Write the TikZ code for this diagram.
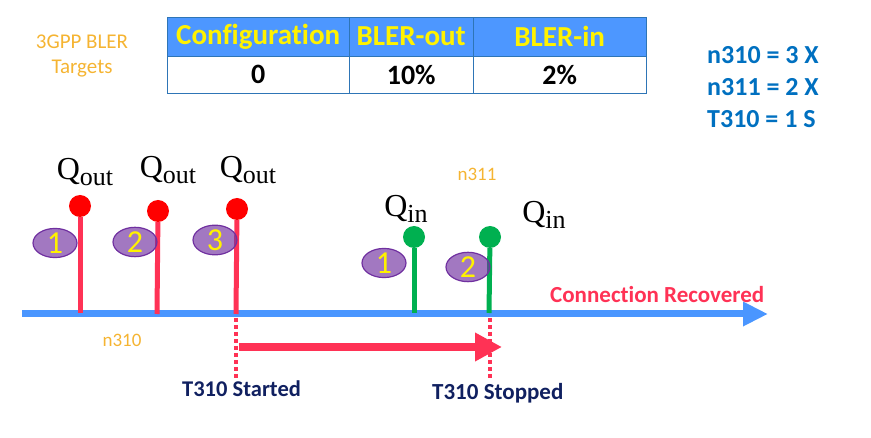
\documentclass[tikz,border=0pt]{standalone}
\usepackage{fontspec}
\setmainfont{Carlito}[Ligatures=NoCommon]
\newfontfamily\qfont{Liberation Serif}
\usetikzlibrary{arrows.meta,shapes.geometric}
\definecolor{hdrblue}{RGB}{77,151,255}
\definecolor{tblline}{RGB}{46,117,182}
\definecolor{axisblue}{RGB}{74,150,255}
\definecolor{pinred}{RGB}{255,50,85}
\definecolor{ballred}{RGB}{255,0,0}
\definecolor{pingreen}{RGB}{0,176,80}
\definecolor{ovpurple}{RGB}{112,48,160}
\definecolor{lblorange}{RGB}{245,180,50}
\definecolor{parblue}{RGB}{0,112,192}
\definecolor{navy}{RGB}{16,32,96}
\newcommand{\fsz}[1]{\fontsize{#1}{#1}\selectfont}
\newcommand{\qsub}[1]{\raisebox{-6pt}{\fsz{26}#1}}

\begin{document}
\begin{tikzpicture}[x=1pt,y=-1pt,
  hdr/.style={draw=tblline,fill=hdrblue,anchor=north west,minimum height=39pt,inner sep=0pt,text=yellow,font=\fsz{29}\bfseries},
  cell/.style={draw=tblline,anchor=north west,minimum height=37pt,inner sep=0pt,font=\fsz{28}\bfseries},
  ball/.style={circle,minimum size=22pt,inner sep=0pt},
  qlbl/.style={anchor=base,inner sep=0pt,font=\qfont\fsz{32}},
  ov/.style={ellipse,draw=ovpurple,line width=1.2pt,fill=ovpurple,fill opacity=0.65,text opacity=1,text=yellow,minimum width=44pt,minimum height=27pt,inner sep=0pt,font=\fsz{32}},
  axis/.style={axisblue,line width=7pt,-{Triangle[length=25pt,width=23pt]}},
  timer/.style={pinred,line width=8pt,-{Triangle[length=27pt,width=27pt]}},
  dots/.style={pinred,line width=3.5pt,dash pattern=on 4pt off 3pt},
  note/.style={text=lblorange,inner sep=0pt,font=\fsz{19}}
]
\useasboundingbox (0,0) rectangle (871,438);

% BLER table
\node[note,font=\fontsize{21}{25}\selectfont,align=center] (tgt) at (82,56) {3GPP BLER\\Targets};
\node[hdr,minimum width=182pt] (h1) at (167,17) {Configuration};
\node[hdr,minimum width=124pt] (h2) at (349,17) {BLER-out};
\node[hdr,minimum width=173pt] (h3) at (473,17) {BLER-in};
\node[cell,minimum width=182pt] (c1) at (167,56) {0};
\node[cell,minimum width=124pt] (c2) at (349,56) {10\%};
\node[cell,minimum width=173pt] (c3) at (473,56) {2\%};

\node[anchor=base west,inner sep=0pt,text=parblue,font=\fsz{26}\bfseries] (p1) at (707,64) {n310 = 3 X};
\node[anchor=base west,inner sep=0pt,text=parblue,font=\fsz{26}\bfseries] (p2) at (707,96) {n311 = 2 X};
\node[anchor=base west,inner sep=0pt,text=parblue,font=\fsz{26}\bfseries] (p3) at (707,128) {T310 = 1 S};

% time line
\coordinate (a0) at (22,314);
\coordinate (a1) at (768,314);
\draw[axis] (a0) -- (a1);
\node[anchor=base west,inner sep=0pt,text=pinred,font=\fsz{23}\bfseries] (rec) at (550,303) {Connection Recovered};

\coordinate (s1) at (80,313);
\coordinate (s2) at (157,314);
\coordinate (s3) at (236,314);
\coordinate (s4) at (414,313);
\coordinate (s5) at (489,313);
\node[ball,fill=ballred] (b1) at (80,206) {};
\node[ball,fill=ballred] (b2) at (158,211) {};
\node[ball,fill=ballred] (b3) at (237,209) {};
\node[ball,fill=pingreen] (b4) at (414,237) {};
\node[ball,fill=pingreen] (b5) at (490,237) {};
\path[pinred,line width=5pt]
     (s1) edge (b1)
     (s2) edge (b2)
     (s3) edge (b3);
\path[pingreen,line width=5pt]
     (s4) edge (b4)
     (s5) edge (b5);

\node[qlbl] (q1) at (85,180) {Q\qsub{out}};
\node[qlbl] (q2) at (168,178) {Q\qsub{out}};
\node[qlbl] (q3) at (248,178) {Q\qsub{out}};
\node[qlbl] (q4) at (406,217) {Q\qsub{in}};
\node[qlbl] (q5) at (544,223) {Q\qsub{in}};

\node[ov] (o1) at (55,243) {1};
\node[ov] (o2) at (135,242) {2};
\node[ov] (o3) at (215,240) {3};
\node[ov] (o4) at (384,263) {1};
\node[ov] (o5) at (468,267) {2};

\node[note] (n310) at (122,340) {n310};
\node[note] (n311) at (477,174) {n311};

% T310 running
\coordinate (d0) at (236,318);
\coordinate (d1) at (236,380);
\coordinate (d2) at (490,318);
\coordinate (d3) at (490,380);
\draw[dots] (d0) -- (d1);
\draw[dots] (d2) -- (d3);
\coordinate (r0) at (239,347);
\coordinate (r1) at (502,347);
\draw[timer] (r0) -- (r1);
\node[anchor=base west,inner sep=0pt,text=navy,font=\fsz{22.5}\bfseries] (tsa) at (182,397) {T310 Started};
\node[anchor=base west,inner sep=0pt,text=navy,font=\fsz{23}\bfseries] (tso) at (432,400) {T310 Stopped};
\end{tikzpicture}
\end{document}
